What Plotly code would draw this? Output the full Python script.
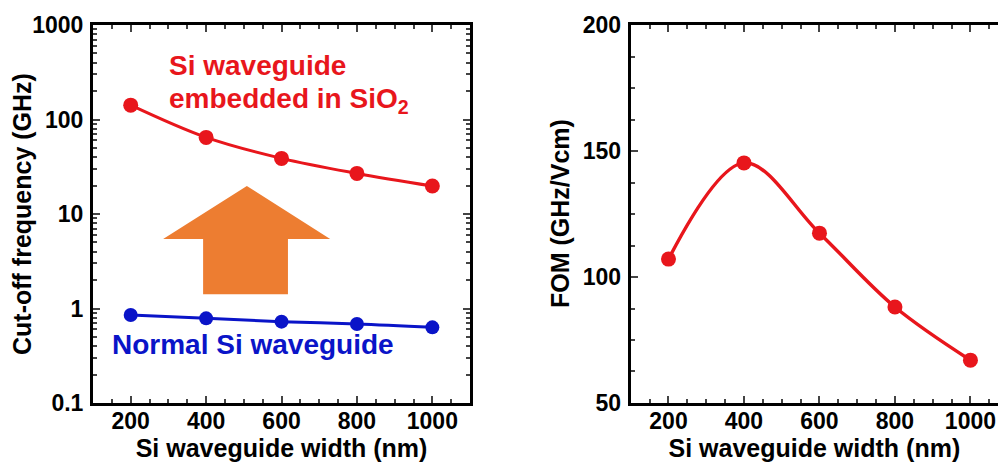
import plotly.graph_objects as go

widths = [200, 400, 600, 800, 1000]
cutoff_sio2 = [142, 64.7, 38.8, 26.9, 19.8]
cutoff_normal = [0.853, 0.787, 0.726, 0.686, 0.632]
fom = [107.1, 145.3, 117.4, 88.1, 67.0]

x_ticks = [200, 400, 600, 800, 1000]
y1_ticks = [0.1, 1, 10, 100, 1000]
y1_ticktext = ["0.1", "1", "10", "100", "1000"]
y2_ticks = [50, 100, 150, 200]

RED = "#E8161C"
BLUE = "#0A14C8"
ORANGE = "#ED7D31"
FONT = "Liberation Sans"

fig = go.Figure()

fig.add_trace(go.Scatter(x=widths, y=cutoff_sio2, mode="lines+markers",
                         line=dict(color=RED, width=3, shape="spline"),
                         marker=dict(color=RED, size=15),
                         xaxis="x", yaxis="y", showlegend=False))
fig.add_trace(go.Scatter(x=widths, y=cutoff_normal, mode="lines+markers",
                         line=dict(color=BLUE, width=3, shape="spline"),
                         marker=dict(color=BLUE, size=14),
                         xaxis="x", yaxis="y", showlegend=False))
fig.add_trace(go.Scatter(x=widths, y=fom, mode="lines+markers",
                         line=dict(color=RED, width=3.5, shape="spline"),
                         marker=dict(color=RED, size=15),
                         xaxis="x2", yaxis="y2", showlegend=False))

tickfont = dict(family=FONT, size=23, color="black", weight="bold")
titlefont = dict(family=FONT, size=25, color="black")

log_minor = [k * 10 ** e for e in range(-1, 3) for k in range(2, 10)]

common_x = dict(
    range=[100, 1100], tickvals=x_ticks, ticks="inside", ticklen=7, tickwidth=2,
    showline=True, linewidth=3, linecolor="black", showgrid=False, zeroline=False,
    tickfont=tickfont, automargin=False, ticklabelstandoff=-5,
    minor=dict(ticks="inside", ticklen=4, tickwidth=2, dtick=50, tick0=0, showgrid=False),
)

fig.update_layout(
    width=998, height=464,
    margin=dict(l=0, r=0, t=0, b=0),
    paper_bgcolor="white", plot_bgcolor="white",
    font=dict(family=FONT, color="black"),
    xaxis=dict(common_x, domain=[0.0932, 0.471], anchor="y", mirror="ticks",
               title=dict(text="<b>Si waveguide width (nm)</b>", font=titlefont, standoff=0)),
    yaxis=dict(type="log", range=[-1, 3], domain=[0.1315, 0.946], anchor="x",
               tickvals=y1_ticks, ticktext=y1_ticktext, ticks="inside", ticklen=7, tickwidth=2,
               showline=True, linewidth=3, linecolor="black", mirror="ticks",
               showgrid=False, zeroline=False, tickfont=tickfont, automargin=False,
               ticklabelstandoff=2,
               minor=dict(ticks="inside", ticklen=4, tickwidth=2, tickvals=log_minor, showgrid=False)),
    xaxis2=dict(common_x, range=[100, 1073], domain=[0.632, 1.0], anchor="y2", mirror="ticks",
                title=dict(text="<b>Si waveguide width (nm)</b>", font=titlefont, standoff=0)),
    yaxis2=dict(range=[50, 200], domain=[0.1315, 0.946], anchor="x2",
                tickvals=y2_ticks, ticks="inside", ticklen=7, tickwidth=2,
                showline=True, linewidth=3, linecolor="black", mirror=False,
                showgrid=False, zeroline=False, tickfont=tickfont, automargin=False,
                ticklabelstandoff=2,
                minor=dict(ticks="inside", ticklen=4, tickwidth=2, dtick=12.5, tick0=50, showgrid=False)),
)

# Y-axis titles placed as rotated text
fig.add_annotation(xref="paper", yref="y domain", x=22 / 998, y=0.5,
                   text="<b>Cut-off frequency (GHz)</b>", textangle=-90, showarrow=False,
                   xanchor="center", yanchor="middle", font=titlefont)
fig.add_annotation(xref="paper", yref="y2 domain", x=560 / 998, y=0.5,
                   text="<b>FOM (GHz/Vcm)</b>", textangle=-90, showarrow=False,
                   xanchor="center", yanchor="middle", font=titlefont)

# The right panel is cut off at the image edge: mask any frame edge there
fig.add_shape(type="rect", xref="paper", yref="paper", x0=0.9935, x1=1.0,
              y0=0.139, y1=0.939, fillcolor="white", line=dict(width=0), layer="above")

# Orange up arrow (decoration) in axis-domain coordinates of the left panel
fig.add_shape(type="path", xref="x domain", yref="y domain",
              path="M 0.292 0.288 L 0.517 0.288 L 0.517 0.434 L 0.629 0.434 "
                   "L 0.408 0.574 L 0.186 0.434 L 0.292 0.434 Z",
              fillcolor=ORANGE, line=dict(width=0), layer="below")

fig.add_annotation(xref="x domain", yref="y domain", x=0.196, y=0.894,
                   text="<b>Si waveguide</b>", showarrow=False, xanchor="left", yanchor="middle",
                   font=dict(family=FONT, size=28, color=RED))
fig.add_annotation(xref="x domain", yref="y domain", x=0.196, y=0.800,
                   text="<b>embedded in SiO<sub>2</sub></b>", showarrow=False, xanchor="left",
                   yanchor="middle", font=dict(family=FONT, size=28, color=RED))
fig.add_annotation(xref="x domain", yref="y domain", x=0.045, y=0.156,
                   text="<b>Normal Si waveguide</b>", showarrow=False, xanchor="left", yanchor="middle",
                   font=dict(family=FONT, size=28, color=BLUE))

fig.write_html("out.html", config={"displayModeBar": False},
               post_script="document.body.style.margin='0';document.body.style.overflow='hidden';")
